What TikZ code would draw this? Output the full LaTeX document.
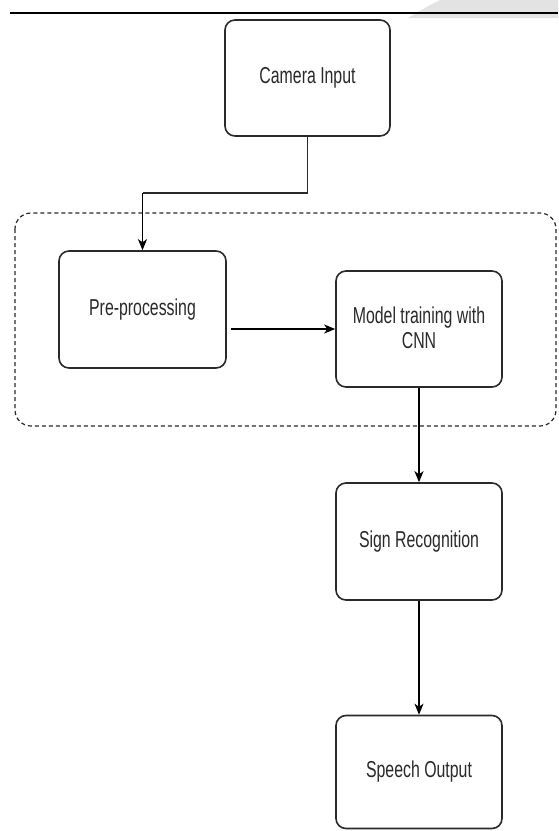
\documentclass[tikz,border=0pt]{standalone}
\usepackage{fontspec}
\newfontfamily\boxfont[FakeStretch=0.69]{Liberation Sans}
\usetikzlibrary{arrows.meta}
\definecolor{ink}{HTML}{2A2A2A}
\tikzset{
  stepbox/.style={draw=ink, line width=1.6pt, rounded corners=10pt, fill=white,
    text=ink, font=\boxfont\fontsize{23}{27}\selectfont, align=center, inner sep=0pt},
  arr/.style={draw=black, line width=1.4pt, -{Stealth[length=11pt,width=9pt,inset=3pt]}},
  conn/.style={draw=ink, line width=1.4pt},
  grp/.style={draw=ink, line width=1.2pt, dash pattern=on 4pt off 3pt, rounded corners=16pt}
}
\begin{document}
\begin{tikzpicture}[x=1pt,y=-1pt]
\useasboundingbox (0,0) rectangle (558,831);
\fill[white] (0,0) rectangle (558,831);
% page artefact at top right
\fill[gray!22] (408,18) -- (418,12) -- (432,4) -- (440,0) -- (558,0) -- (558,18) -- cycle;
\draw[line width=1.8pt] (10,13) -- (558,13);
% group
\draw[grp] (15,213) rectangle (556,426);
% boxes
\node[stepbox, minimum width=165pt, minimum height=116pt] (cam) at (307.5,78) {Camera Input};
\node[stepbox, minimum width=167pt, minimum height=117pt] (pre) at (142.5,309.5) {\raisebox{2pt}{Pre-processing}};
\node[stepbox, minimum width=166pt, minimum height=116pt] (model) at (419,329) {\raisebox{3pt}{\shortstack{Model training with\\[1pt]CNN}}};
\node[stepbox, minimum width=166pt, minimum height=117pt] (sign) at (419,541.5) {Sign Recognition};
\node[stepbox, minimum width=166pt, minimum height=113pt] (speech) at (419,772) {Speech Output};
% connectors
\coordinate (bend) at (142.5,193);
\draw[conn] (cam.south) |- (bend);
\draw[arr] (bend) -- (pre.north);
\draw[arr] ([xshift=4pt]pre.east |- model.west) -- (model.west);
\draw[arr] (model.south) -- (sign.north);
\draw[arr] (sign.south) -- (speech.north);
\end{tikzpicture}
\end{document}
